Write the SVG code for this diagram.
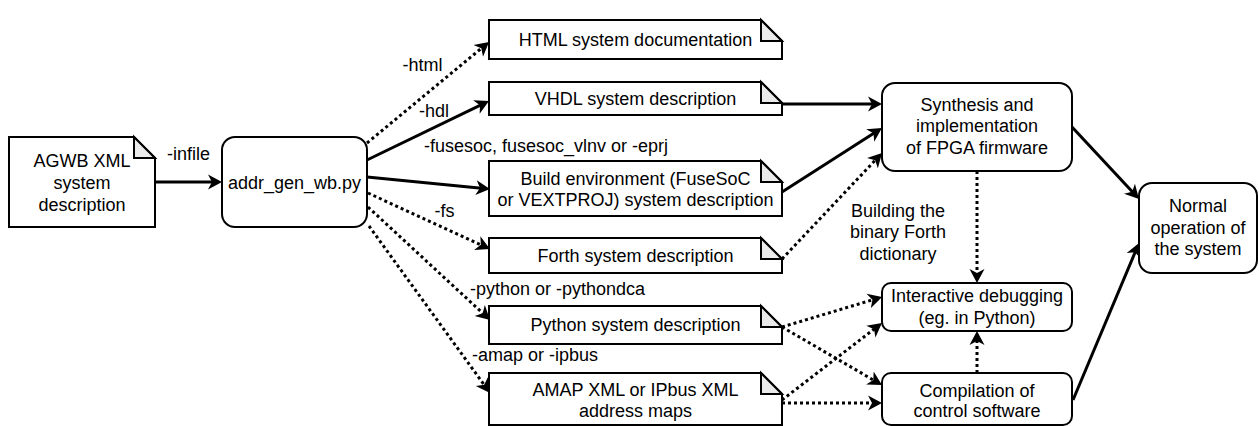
<svg xmlns="http://www.w3.org/2000/svg" width="1259" height="426" viewBox="0 0 1259 426">
<style>
.box{fill:#fff;stroke:#000;stroke-width:2}
.fold{fill:#ebebeb;stroke:#000;stroke-width:2;stroke-linejoin:miter}
text{font-family:"Liberation Sans",Arial,sans-serif;font-size:18px;fill:#000;text-anchor:middle}
.e{fill:none;stroke:#000;stroke-width:3;marker-end:url(#ah)}
.d{stroke-dasharray:3 3}
</style>
<defs>
<marker id="ah" markerUnits="userSpaceOnUse" markerWidth="16" markerHeight="16" refX="8" refY="8" orient="auto">
<path d="M0,0.5 L14,8 L0,15.5 L4,8 Z" fill="#000"/>
</marker>
</defs>
<rect width="1259" height="426" fill="#fff"/>
<g id="edges">
<path class="e" d="M155,182 L216,182"/>
<path class="e d" d="M367,143 L484.4,45.8"/>
<path class="e" d="M367,160 L483.6,103.6"/>
<path class="e" d="M367,177 L484,188.4"/>
<path class="e d" d="M368,193 L484.5,246.5"/>
<path class="e d" d="M368,207 L485.6,315.9"/>
<path class="e d" d="M369,226 L486.5,388.1"/>
<path class="e" d="M782,104 L876,104"/>
<path class="e" d="M782,192 L876.9,131.2"/>
<path class="e d" d="M782,259 L877.9,157.4"/>
<path class="e d" d="M977,171 L977,277"/>
<path class="e d" d="M782,327 L876.3,298.7"/>
<path class="e d" d="M782,327 L876.8,382"/>
<path class="e d" d="M782,400 L877.2,326.7"/>
<path class="e d" d="M782,403 L876,403"/>
<path class="e d" d="M977,373 L977,337"/>
<path class="e" d="M1072,127 L1134.9,194.6"/>
<path class="e" d="M1073,400 L1136.7,248.5"/>
<text x="188.5" y="160">-infile</text>
<text x="422.5" y="71">-html</text>
<text x="434" y="116.5">-hdl</text>
<text x="546" y="151.5">-fusesoc, fusesoc_vlnv or -eprj</text>
<text x="444.5" y="216.5">-fs</text>
<text x="557.5" y="295">-python or -pythondca</text>
<text x="535" y="361">-amap or -ipbus</text>
<text x="898" y="216.5">Building the</text>
<text x="898" y="238">binary Forth</text>
<text x="898" y="259.5">dictionary</text>
</g>
<g id="agwb">
<path class="box" d="M9,137 H134 L155,158 V227 H9 Z"/>
<path class="fold" d="M134,137 V158 H155 Z"/>
<text x="82" y="166.5">AGWB XML</text>
<text x="82" y="188.5">system</text>
<text x="82" y="210.5">description</text>
</g>
<g id="addr">
<rect class="box" x="222" y="137" width="145" height="90" rx="13" ry="13"/>
<text x="294.5" y="188.5">addr_gen_wb.py</text>
</g>
<g id="html">
<path class="box" d="M489,20 H761 L782,41 V59 H489 Z"/>
<path class="fold" d="M761,20 V41 H782 Z"/>
<text x="635.5" y="46">HTML system documentation</text>
</g>
<g id="vhdl">
<path class="box" d="M489,82 H761 L782,103 V115 H489 Z"/>
<path class="fold" d="M761,82 V103 H782 Z"/>
<text x="635.5" y="105">VHDL system description</text>
</g>
<g id="build">
<path class="box" d="M489,161 H761 L782,182 V216 H489 Z"/>
<path class="fold" d="M761,161 V182 H782 Z"/>
<text x="635.5" y="184.5">Build environment (FuseSoC</text>
<text x="635.5" y="205.5">or VEXTPROJ) system description</text>
</g>
<g id="forth">
<path class="box" d="M489,238 H761 L782,259 V273 H489 Z"/>
<path class="fold" d="M761,238 V259 H782 Z"/>
<text x="635.5" y="261.5">Forth system description</text>
</g>
<g id="python">
<path class="box" d="M489,306 H761 L782,327 V344 H489 Z"/>
<path class="fold" d="M761,306 V327 H782 Z"/>
<text x="635.5" y="331">Python system description</text>
</g>
<g id="amap">
<path class="box" d="M489,373 H761 L782,394 V425 H489 Z"/>
<path class="fold" d="M761,373 V394 H782 Z"/>
<text x="635.5" y="396">AMAP XML or IPbus XML</text>
<text x="635.5" y="417">address maps</text>
</g>
<g id="synth">
<rect class="box" x="882" y="83" width="190" height="88" rx="13" ry="13"/>
<text x="977" y="110.5">Synthesis and</text>
<text x="977" y="132">implementation</text>
<text x="977" y="153.5">of FPGA firmware</text>
</g>
<g id="inter">
<rect class="box" x="882" y="283" width="190" height="48" rx="9" ry="9"/>
<text x="977" y="302">Interactive debugging</text>
<text x="977" y="323.5">(eg. in Python)</text>
</g>
<g id="comp">
<rect class="box" x="882" y="373" width="190" height="52" rx="9" ry="9"/>
<text x="977" y="396.5">Compilation of</text>
<text x="977" y="417">control software</text>
</g>
<g id="normal">
<rect class="box" x="1139" y="183" width="118" height="90" rx="13" ry="13"/>
<text x="1198" y="212">Normal</text>
<text x="1198" y="233.5">operation of</text>
<text x="1198" y="255">the system</text>
</g>
</svg>
